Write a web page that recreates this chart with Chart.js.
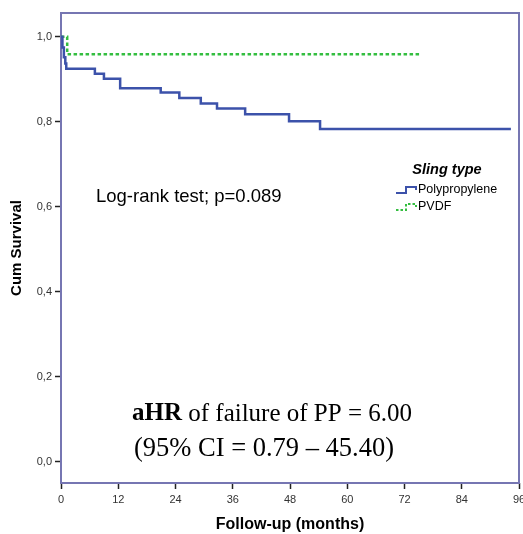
<!DOCTYPE html>
<html>
<head>
<meta charset="utf-8">
<script src="https://cdn.jsdelivr.net/npm/chart.js@4"></script>
<style>
  html, body { margin: 0; padding: 0; background: #fff; overflow: hidden; }
  #wrap { width: 523px; height: 534px; }
</style>
</head>
<body>
<div id="wrap"><canvas id="km"></canvas></div>
<script>
// Kaplan-Meier steps (months, cumulative survival)
const ppMonths   = [0, 0.3, 0.6, 0.9, 1.1, 7.1, 9.0, 12.4, 20.9, 24.8, 29.3, 32.7, 38.6, 47.8, 54.3, 94.3];
const ppSurvival = [1.0, 0.975, 0.952, 0.937, 0.925, 0.913, 0.901, 0.879, 0.869, 0.856, 0.843, 0.831, 0.818, 0.801, 0.783, 0.783];
const pvdfMonths   = [0, 1.3, 75.5];
const pvdfSurvival = [1.0, 0.959, 0.959];

const xTicks = [0, 12, 24, 36, 48, 60, 72, 84, 96];
const yTicks = [0, 0.2, 0.4, 0.6, 0.8, 1.0];

const seriesNames = ["Polypropylene", "PVDF"];
const legendTitle = "Sling type";
const noteText = "Log-rank test; p=0.089";
const hrLine1 = ["aHR", " of failure of PP = 6.00"];
const hrLine2 = "(95% CI = 0.79 \u2013 45.40)";

const blue = "rgb(60,82,170)";
const green = "rgb(52,190,64)";
const frame = "rgb(118,118,178)";

const toPoints = (xs, ys) => xs.map((x, i) => ({ x: x, y: ys[i] }));

// frame around plot area, legend and text notes
const extras = {
  id: "extras",
  beforeDatasetsDraw(chart) {
    const { ctx, chartArea: a } = chart;
    ctx.save();
    ctx.strokeStyle = frame;
    ctx.lineWidth = 2;
    ctx.strokeRect(a.left, a.top, a.right - a.left, a.bottom - a.top);
    ctx.restore();
  },
  afterDraw(chart) {
    const ctx = chart.ctx;
    ctx.save();
    ctx.fillStyle = "#000";
    ctx.textBaseline = "middle";

    ctx.font = "18.5px 'Liberation Sans', Arial, sans-serif";
    ctx.textAlign = "left";
    ctx.fillText(noteText, 96, 197);

    // legend
    ctx.font = "bold italic 14.5px 'Liberation Sans', Arial, sans-serif";
    ctx.textAlign = "center";
    ctx.fillText(legendTitle, 447, 170);
    ctx.font = "12.5px 'Liberation Sans', Arial, sans-serif";
    ctx.textAlign = "left";
    const rows = [190, 207];
    const cols = [blue, green];
    rows.forEach((y, i) => {
      ctx.strokeStyle = cols[i];
      ctx.lineWidth = 2;
      ctx.setLineDash(i === 1 ? [2.5, 2] : []);
      ctx.beginPath();
      ctx.moveTo(396, y + 3);
      ctx.lineTo(406, y + 3);
      ctx.lineTo(406, y - 3);
      ctx.lineTo(416, y - 3);
      ctx.lineTo(416, y);
      ctx.stroke();
      ctx.setLineDash([]);
      ctx.fillText(seriesNames[i], 418, y);
    });

    // hazard ratio note
    ctx.textAlign = "left";
    const bold = "bold 25px 'Liberation Serif', 'Times New Roman', serif";
    const reg = "25px 'Liberation Serif', 'Times New Roman', serif";
    ctx.font = bold;
    const w1 = ctx.measureText(hrLine1[0]).width;
    ctx.font = reg;
    const w2 = ctx.measureText(hrLine1[1]).width;
    let x0 = 272 - (w1 + w2) / 2;
    ctx.font = bold;
    ctx.fillText(hrLine1[0], x0, 414);
    ctx.font = reg;
    ctx.fillText(hrLine1[1], x0 + w1, 414);
    ctx.font = "26.5px 'Liberation Serif', 'Times New Roman', serif";
    ctx.textAlign = "center";
    ctx.fillText(hrLine2, 264, 449);
    ctx.restore();
  }
};

new Chart(document.getElementById("km"), {
  type: "line",
  data: {
    datasets: [
      {
        label: seriesNames[0],
        data: toPoints(ppMonths, ppSurvival),
        borderColor: blue,
        borderWidth: 2.5,
        stepped: "before",
        pointRadius: 0,
        fill: false
      },
      {
        label: seriesNames[1],
        data: toPoints(pvdfMonths, pvdfSurvival),
        borderColor: green,
        borderWidth: 2.5,
        borderDash: [3.5, 2.5],
        stepped: "before",
        pointRadius: 0,
        fill: false
      }
    ]
  },
  options: {
    responsive: true,
    maintainAspectRatio: false,
    animation: false,
    layout: { padding: { left: 0, top: 13, right: 4, bottom: 0 } },
    plugins: { legend: { display: false }, tooltip: { enabled: false } },
    scales: {
      x: {
        type: "linear",
        min: 0,
        max: 96,
        afterBuildTicks: (s) => { s.ticks = xTicks.map(v => ({ value: v })); },
        afterFit: (s) => { s.height = 51; s.paddingLeft = 0; s.paddingRight = 0; },
        grid: { display: true, drawOnChartArea: false, drawTicks: true, tickLength: 6, tickColor: "#222", tickWidth: 1.5 },
        border: { display: false },
        ticks: { color: "#333", font: { size: 11, family: "'Liberation Sans', Arial, sans-serif" }, padding: 4, maxRotation: 0 },
        title: {
          display: true,
          text: "Follow-up (months)",
          color: "#000",
          font: { size: 16, weight: "bold", family: "'Liberation Sans', Arial, sans-serif" },
          padding: { top: 0, bottom: 0 }
        }
      },
      y: {
        min: -0.05,
        max: 1.056,
        afterBuildTicks: (s) => { s.ticks = yTicks.map(v => ({ value: v })); },
        afterFit: (s) => { s.width = 61; },
        grid: { display: true, drawOnChartArea: false, drawTicks: true, tickLength: 6, tickColor: "#222", tickWidth: 1.5 },
        border: { display: false },
        ticks: {
          color: "#333",
          font: { size: 11, family: "'Liberation Sans', Arial, sans-serif" },
          padding: 3,
          callback: (v) => v.toFixed(1).replace(".", ",")
        },
        title: {
          display: true,
          text: "Cum Survival",
          color: "#000",
          font: { size: 15, weight: "bold", family: "'Liberation Sans', Arial, sans-serif" },
          padding: { top: 8, bottom: 0 }
        }
      }
    }
  },
  plugins: [extras]
});
</script>
</body>
</html>
